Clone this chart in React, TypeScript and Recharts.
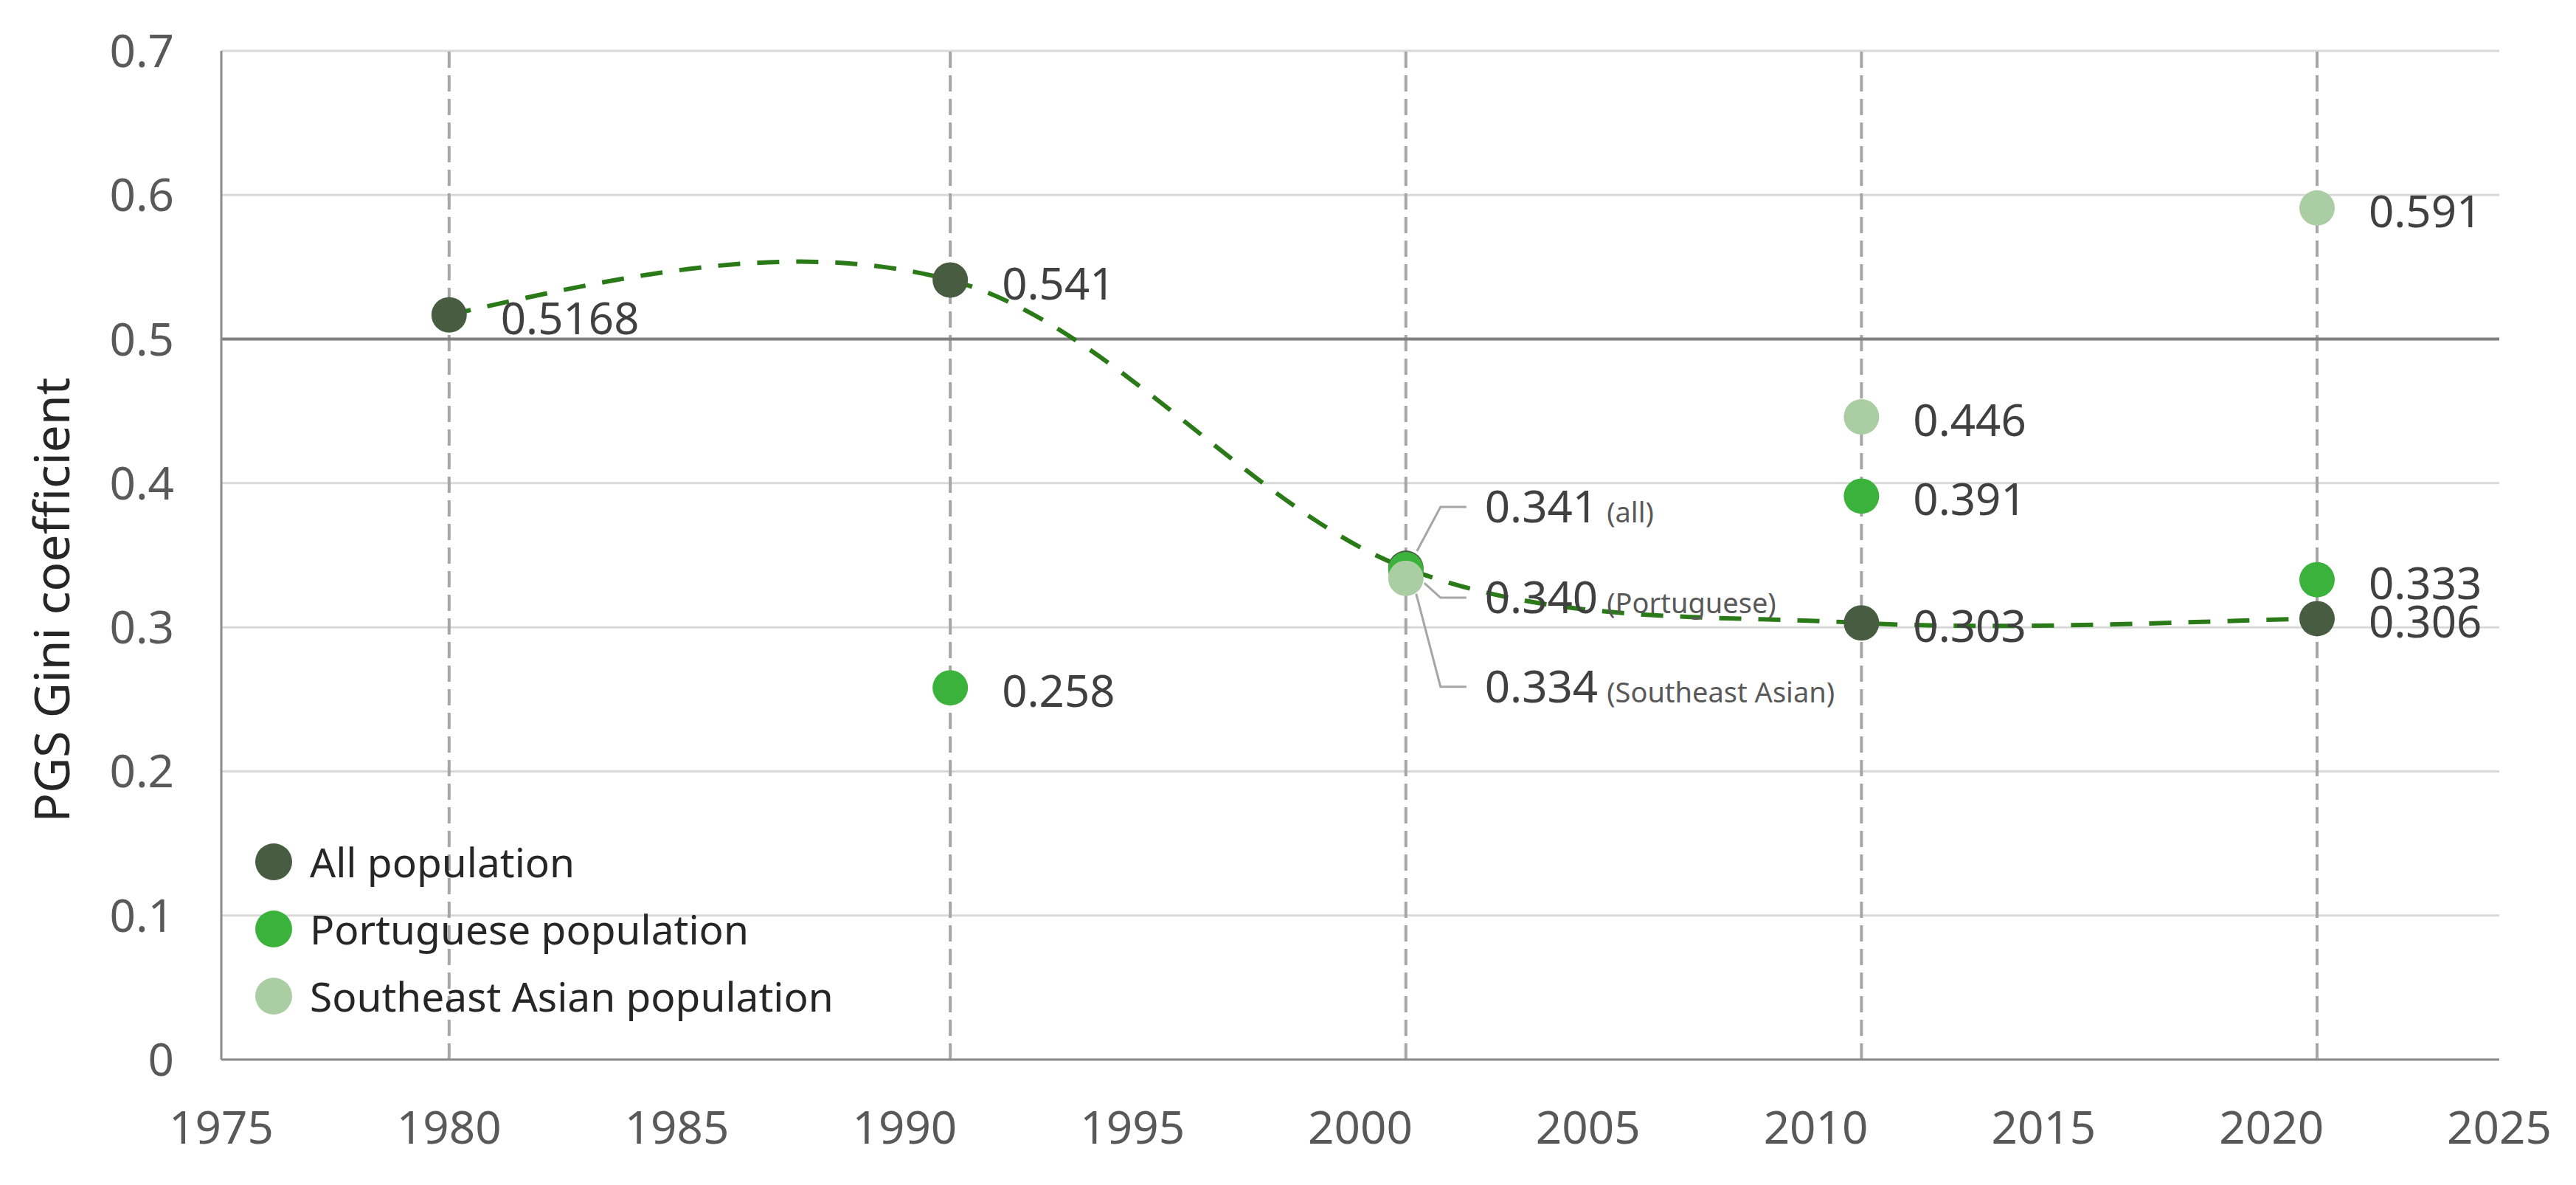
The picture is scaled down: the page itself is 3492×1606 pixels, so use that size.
import React from 'react';
import { LineChart, Line, XAxis, YAxis, CartesianGrid, ReferenceLine, Legend } from 'recharts';

// ---------- data ----------
const years = [1980, 1991, 2001, 2011, 2021];
const allPopulation = [0.5168, 0.541, 0.341, 0.303, 0.306];
const portuguesePopulation: (number | null)[] = [null, 0.258, 0.34, 0.391, 0.333];
const seAsianPopulation: (number | null)[] = [null, null, 0.334, 0.446, 0.591];

const xTicks = [1975, 1980, 1985, 1990, 1995, 2000, 2005, 2010, 2015, 2020, 2025];
const yTicks = [0, 0.1, 0.2, 0.3, 0.4, 0.5, 0.6, 0.7];

const seriesKeys = ['all', 'portuguese', 'seAsian'];
const seriesNames = ['All population', 'Portuguese population', 'Southeast Asian population'];
const seriesColors = ['#485C42', '#3BB23B', '#ABCDA3'];
const clusterYear = 2001;
const clusterTags = ['(all)', '(Portuguese)', '(Southeast Asian)'];
const yAxisTitle = 'PGS Gini coefficient';

const data = years.map((year, i) => ({
  year,
  all: allPopulation[i],
  portuguese: portuguesePopulation[i],
  seAsian: seAsianPopulation[i],
}));

const FONT = '"Noto Sans", "Open Sans", sans-serif';

const fmt = (v: number) => {
  const s = v.toFixed(4);
  return s.endsWith('0') ? v.toFixed(3) : s;
};

// Excel-like smoothed curve (Catmull-Rom Bezier)
const excelSmooth = (context: any) => {
  let pts: number[][] = [];
  return {
    areaStart() {},
    areaEnd() {},
    lineStart() {
      pts = [];
    },
    point(x: number, y: number) {
      pts.push([+x, +y]);
    },
    lineEnd() {
      const n = pts.length;
      if (!n) return;
      context.moveTo(pts[0][0], pts[0][1]);
      if (n === 1) return;
      if (n === 2) {
        context.lineTo(pts[1][0], pts[1][1]);
        return;
      }
      const k = 1 / 6;
      for (let i = 0; i < n - 1; i++) {
        const p1 = pts[i];
        const p2 = pts[i + 1];
        let c1: number[] | null =
          i > 0 ? [p1[0] + (p2[0] - pts[i - 1][0]) * k, p1[1] + (p2[1] - pts[i - 1][1]) * k] : null;
        const p3 = i < n - 2 ? pts[i + 2] : p2;
        const c2 = [p2[0] - (p3[0] - p1[0]) * k, p2[1] - (p3[1] - p1[1]) * k];
        if (!c1) c1 = [(p1[0] + c2[0]) / 2, (p1[1] + c2[1]) / 2];
        context.bezierCurveTo(c1[0], c1[1], c2[0], c2[1], p2[0], p2[1]);
      }
    },
  };
};

// offsets of the leader-line labels in the 2001 cluster (per series)
const clusterStart = [
  [15, -23],
  [25, 18],
  [14, 21],
];
const clusterDy = [-83, 38, 147];

const makeLabelDot = (si: number) => (props: any) => {
  const { cx, cy, index, payload } = props;
  const key = `lbl-${si}-${index}`;
  const v = payload ? payload[seriesKeys[si]] : null;
  if (v == null || cx == null || cy == null || isNaN(cx) || isNaN(cy)) return <g key={key} />;
  if (payload.year === clusterYear) {
    const [sx, sy] = clusterStart[si];
    const dy = clusterDy[si];
    return (
      <g key={key}>
        <polyline
          points={`${cx + sx},${cy + sy} ${cx + 47},${cy + dy} ${cx + 82},${cy + dy}`}
          fill="none"
          stroke="#A6A6A6"
          strokeWidth={3}
        />
        <text x={cx + 107} y={cy + dy + 21} fontFamily={FONT} fill="#404040">
          <tspan fontSize={60}>{fmt(v)}</tspan>
          <tspan dx={12} fontSize={38} fill="#595959">
            {clusterTags[si]}
          </tspan>
        </text>
      </g>
    );
  }
  return (
    <text key={key} x={cx + 70} y={cy + 26} fontSize={60} fontFamily={FONT} fill="#404040">
      {fmt(v)}
    </text>
  );
};

const renderLegend = () => (
  <div style={{ width: 'max-content', fontFamily: FONT }}>
    {seriesNames.map((name, i) => (
      <div key={name} style={{ display: 'flex', alignItems: 'center', height: 91 }}>
        <svg width={50} height={50} style={{ display: 'block' }}>
          <circle cx={25} cy={25} r={25} fill={seriesColors[i]} />
        </svg>
        <span style={{ marginLeft: 24, fontSize: 55, color: '#262626', whiteSpace: 'nowrap' }}>{name}</span>
      </div>
    ))}
  </div>
);

const renderYTitle = () => (
  <text
    x={94}
    y={813}
    transform="rotate(-90 94 813)"
    textAnchor="middle"
    fontSize={66}
    fontFamily={FONT}
    fill="#262626"
  >
    {yAxisTitle}
  </text>
);

export default function App() {
  return (
    <div style={{ position: 'absolute', left: 0, top: 0, width: 3492, height: 1606, background: '#fff', fontFamily: FONT }}>
      <LineChart
        width={3492}
        height={1606}
        data={data}
        margin={{ top: 69, right: 104, bottom: 0, left: 0 }}
        style={{ fontFamily: FONT }}
      >
        <CartesianGrid vertical={false} stroke="#D9D9D9" strokeWidth={3} />
        {years.map((y) => (
          <ReferenceLine key={`v${y}`} x={y} stroke="#A6A6A6" strokeWidth={4} strokeDasharray="22 10" zIndex={-50} />
        ))}
        <ReferenceLine y={0.5} stroke="#7F7F7F" strokeWidth={4} zIndex={-40} />
        <XAxis
          type="number"
          dataKey="year"
          domain={[1975, 2025]}
          ticks={xTicks}
          interval={0}
          height={170}
          tickLine={false}
          tickSize={0}
          tickMargin={70}
          axisLine={{ stroke: '#8C8C8C', strokeWidth: 3 }}
          tick={{ fill: '#595959', fontSize: 62, fontFamily: FONT }}
        />
        <YAxis
          type="number"
          domain={[0, 0.7]}
          ticks={yTicks}
          interval={0}
          width={300}
          tickLine={false}
          tickSize={0}
          tickMargin={64}
          axisLine={{ stroke: '#8C8C8C', strokeWidth: 3 }}
          tick={{ fill: '#595959', fontSize: 62, fontFamily: FONT }}
          label={{ content: renderYTitle }}
        />
        {seriesKeys.map((k, si) => (
          <Line
            key={`labels-${k}`}
            dataKey={k}
            stroke="none"
            dot={makeLabelDot(si)}
            activeDot={false}
            legendType="none"
            isAnimationActive={false}
          />
        ))}
        <Line
          dataKey="all"
          type={excelSmooth as any}
          stroke="#2A7A17"
          strokeWidth={6}
          strokeDasharray="30 23"
          dot={false}
          activeDot={false}
          legendType="none"
          isAnimationActive={false}
        />
        {seriesKeys.map((k, si) => (
          <Line
            key={`dots-${k}`}
            dataKey={k}
            name={seriesNames[si]}
            stroke="none"
            dot={{ r: 24, fill: seriesColors[si], stroke: 'none', strokeWidth: 0 }}
            activeDot={false}
            isAnimationActive={false}
          />
        ))}
        <Legend
          content={renderLegend}
          wrapperStyle={{ position: 'absolute', left: 346, top: 1122, width: 0, height: 0, overflow: 'visible' }}
        />
      </LineChart>
    </div>
  );
}
